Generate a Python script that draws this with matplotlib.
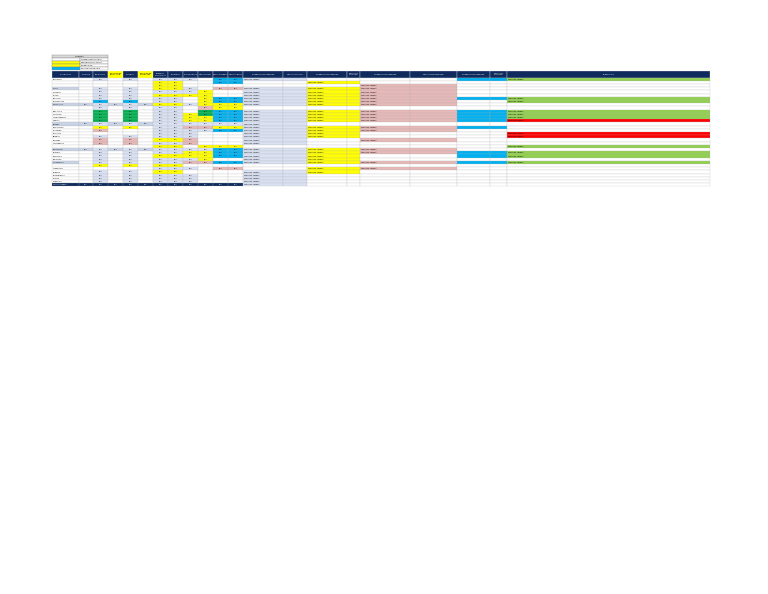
import matplotlib.pyplot as plt
from matplotlib.patches import Rectangle

# column edges (pixels) and row layout
col_edges = [52, 79, 93, 108, 123, 138, 153, 168, 183, 198, 213, 228, 243,
             283, 307, 347, 360, 410, 457, 490, 507, 710]
header_top, header_bot = 71, 77.5
row_h = 3.2

colors = {'W': 'white', 'G': '#d9e1f2', 'Y': '#ffff00', 'P': '#e6b8b7',
          'B': '#00b0f0', 'D': '#00b050', 'L': '#92d050', 'R': '#ff0000',
          'N': '#0f2a5c', 'S': '#c9d3e6'}

headers = ["DESCRIPTION", "NUM REQ", "ESTIMATION", "REVISION DE\nESTIMACION", "MATERIAL",
           "REVISION DE\nMATERIALES", "COMPRAS\nSOLICITADAS", "RECIBIDOS", "PAGOS REALIZ",
           "FACTURACION", "FECHA ENTREGA", "FECHA CIERRE", "NOMBRE DE PROVEEDOR",
           "FECHA SOLICITUD", "NOMBRE DE PROVEEDOR", "FECHA DE\nSOLICITUD", "NOMBRE DE PROVEEDOR",
           "FECHA DE PROVEEDOR", "NOMBRE DE PROVEEDOR", "FECHA DE\nSOLICITUD", "COMENTARIO"]

# one code per column (21 columns) for each row
rows = [
    "WWGWGWGGGWBBGGWWWWBBL",
    "WWWWWWYYWWBBWWYYWWWWW",
    "WWWWWWYYWWWWWWWWPPWWW",
    "SWGWGWYYGWPPGGYYPPWWW",
    "WWGWGWGGGYWWGGYYPPWWW",
    "WWGWGWYYYYWWGGYYPPWWW",
    "WWGWGWGGWYBBGGYYPPBBL",
    "WWBWBWGGWYBBGGYYPPWWL",
    "SSGSGSYYGYYYGGYYPPWWW",
    "WWGWGWGGWPYYWWWWWWWWW",
    "WWDWDWGGWDBBGGYYPPBBL",
    "WWDWDWGGYDBBGGYYPPBBL",
    "WWDWDWGGYYBBGGYYPPBBL",
    "WWDWDWGGYYBBGGYYPPBBR",
    "SSGSGSGGGGGGGGWWWWWWW",
    "WWYWYWGGPPYYGGYYPPBBW",
    "WWPWWWGGGGBBGGYYPPWWW",
    "WWWWWWGGGWWWGGYYWWWWR",
    "WWGWGWGGGWWWGGYYWWWWR",
    "WWPWPWYYPWWWGGWWPPWWW",
    "WWPWPWGGPWWWGGWWWWWWW",
    "WWWWWWYYWYYYWWWWWWWWL",
    "SSGSGSGGGGBBGGYYPPWWW",
    "WWGWGWGGYYBBGGYYPPBBL",
    "WWGWGWYYYYBBGGYYWWBBL",
    "WWGWGWGGGYWWGGYYWWWWW",
    "SWGWGWGGPPBBGGYYPPBBL",
    "WWYWYWYYWWWWWWWWWWWWW",
    "WWWWWWGGGWPPWWYYPPWWW",
    "WWGWGWYYWWWWGGYYWWWWW",
    "WWGWGWGGGWWWGGWWWWWWW",
    "WWGWGWGGGWWWGGWWWWWWW",
    "WWGWGWGGGWWWGGWWWWWWW",
    "WWGWGWGGGGGGGGWWWWWWW",
]
row_names = ["PROYECTO", "", "", "TOTAL", "MATERIAL", "EQUIPO", "SERVICIO", "ADICIONALES",
             "OBRA CIVIL", "", "ELECTRICO", "MECANICO", "INSTRUMENTOS", "TUBERIA", "PINTURA",
             "ESTRUCTURA", "SOPORTES", "VALVULAS", "BOMBAS", "TANQUES", "AISLAMIENTO", "",
             "SEGURIDAD", "CONTROL", "CABLEADO", "TABLEROS", "ACCESORIOS", "", "INSPECCION",
             "PRUEBAS", "DOCUMENTOS", "PLANOS", "MANUALES", "TOTAL GENERAL"]
legend_labels = ["COMPRAS REALIZADAS", "PENDIENTE DE COMPRA", "EN REVISION", "ENTREGADO EN SITIO"]
legend_colors = ['W', 'Y', 'Y', 'B']

fig = plt.figure(figsize=(7.68, 5.94), dpi=100)
ax = fig.add_axes([0, 0, 1, 1])
ax.set_xlim(0, 768)
ax.set_ylim(594, 0)
ax.axis('off')

# legend box
ax.add_patch(Rectangle((52, 55), 56, 3, fc='#d9d9d9', ec='#888', lw=0.3))
ax.text(80, 56.5, "LEYENDA", fontsize=1.5, ha='center', va='center')
for i, (lab, c) in enumerate(zip(legend_labels, legend_colors)):
    y = 58 + i * 3
    ax.add_patch(Rectangle((52, y), 28, 3, fc=colors[c], ec='#888', lw=0.3))
    ax.add_patch(Rectangle((80, y), 28, 3, fc='white', ec='#888', lw=0.3))
    ax.text(81, y + 1.5, lab, fontsize=1.3, va='center')

# header
for j, h in enumerate(headers):
    x0, x1 = col_edges[j], col_edges[j + 1]
    fc = colors['Y'] if j in (3, 5) else colors['N']
    ax.add_patch(Rectangle((x0, header_top), x1 - x0, header_bot - header_top,
                           fc=fc, ec='white', lw=0.2))
    ax.text((x0 + x1) / 2, (header_top + header_bot) / 2, h, fontsize=1.3,
            ha='center', va='center', color='black' if fc == colors['Y'] else 'white')

# body
for i, (code, name) in enumerate(zip(rows, row_names)):
    y = header_bot + i * row_h
    last = i == len(rows) - 1
    for j, c in enumerate(code):
        x0, x1 = col_edges[j], col_edges[j + 1]
        fc = colors['N'] if last and j < 12 else colors[c]
        ax.add_patch(Rectangle((x0, y), x1 - x0, row_h, fc=fc, ec='#b0b0b0', lw=0.15))
        if j == 0:
            ax.text(x0 + 1, y + row_h / 2, name, fontsize=1.3, va='center',
                    color='white' if last else 'black')
        elif 1 <= j <= 11 and c != 'W' or last and j < 12:
            ax.text((x0 + x1) / 2, y + row_h / 2, "0.00", fontsize=1.2,
                    ha='center', va='center', color='white' if last else 'black')
        elif j in (12, 14, 16, 20) and c != 'W':
            ax.text(x0 + 1, y + row_h / 2, "ORDEN DE COMPRA", fontsize=1.2, va='center')

fig.savefig("out.png", dpi=100)
